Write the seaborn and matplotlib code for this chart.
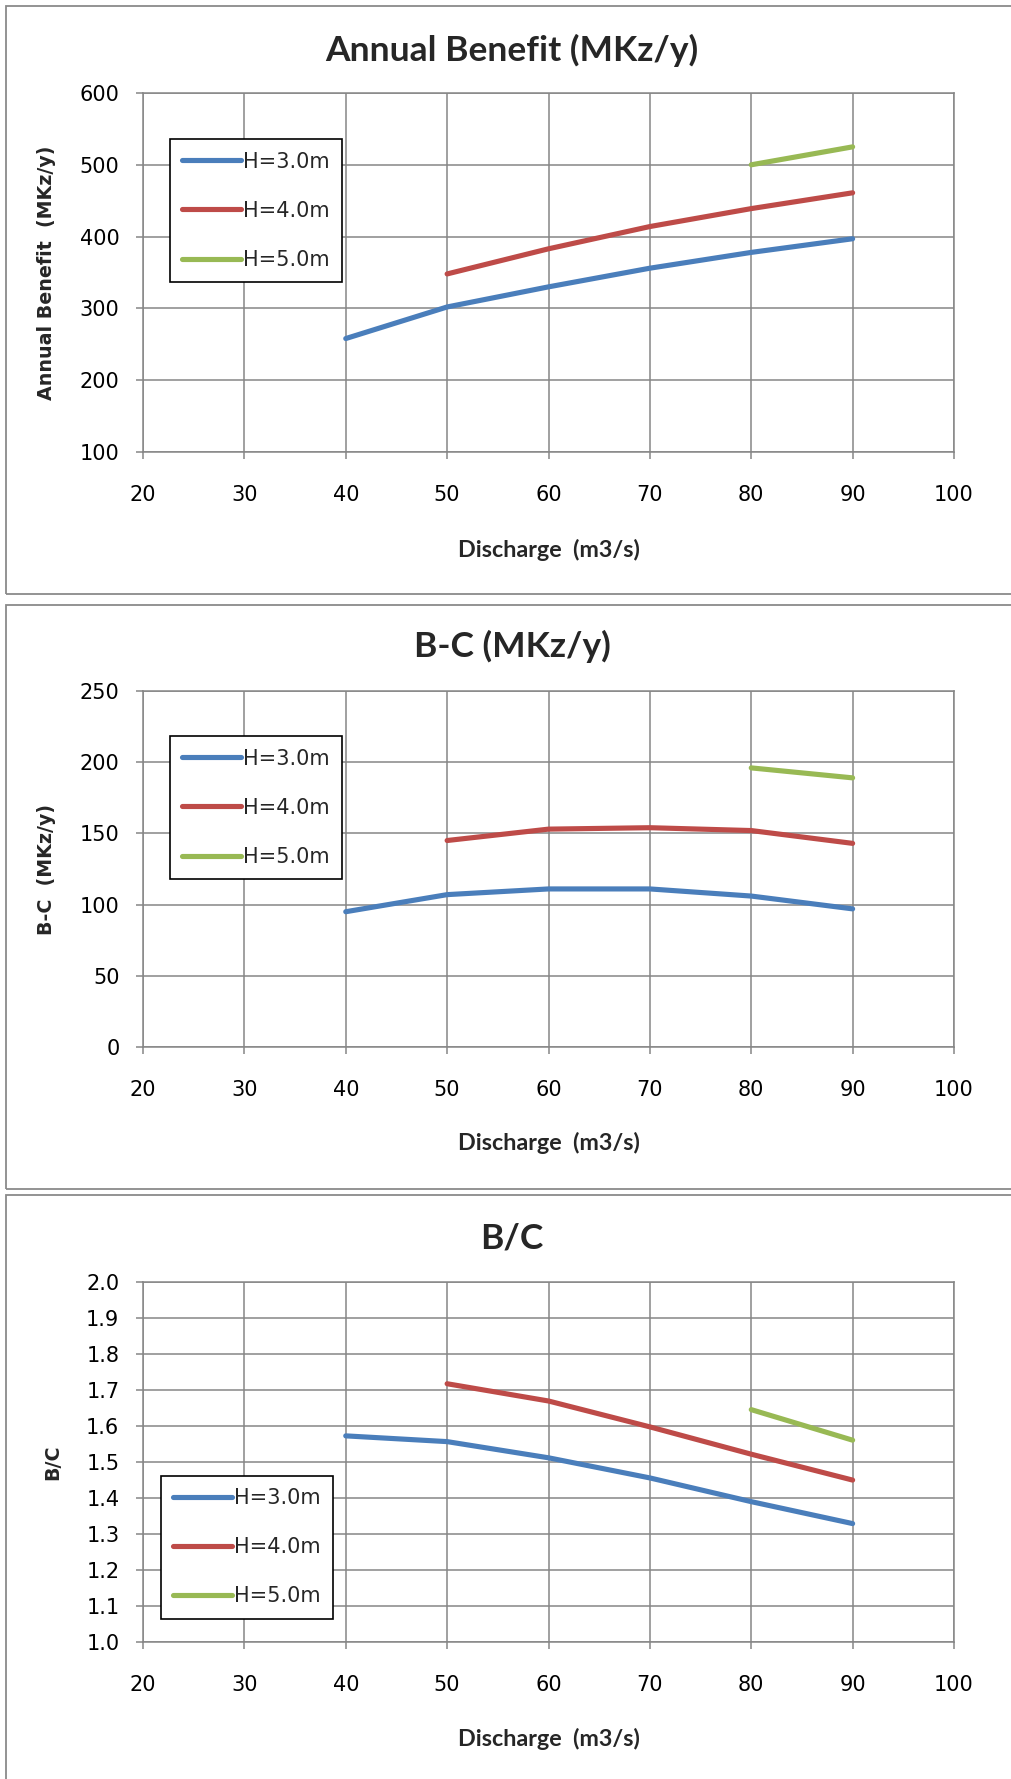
import numpy as np
import pandas as pd
import matplotlib
matplotlib.use("Agg")
import matplotlib.pyplot as plt
import seaborn as sns
from matplotlib.patches import Rectangle
from matplotlib.ticker import FormatStrFormatter, MultipleLocator

# ---------------- data ----------------
series_labels = ["H=3.0m", "H=4.0m", "H=5.0m"]
discharge_h3 = [40, 50, 60, 70, 80, 90]
discharge_h4 = [50, 60, 70, 80, 90]
discharge_h5 = [80, 90]

benefit_h3 = [258, 302, 330, 356, 378, 397]
benefit_h4 = [348, 383, 414, 439, 461]
benefit_h5 = [500, 525]

bc_diff_h3 = [95, 107, 111, 111, 106, 97]
bc_diff_h4 = [145, 153, 154, 152, 143]
bc_diff_h5 = [196, 189]

bc_ratio_h3 = [1.572, 1.556, 1.511, 1.455, 1.389, 1.328]
bc_ratio_h4 = [1.717, 1.669, 1.597, 1.521, 1.449]
bc_ratio_h5 = [1.645, 1.560]

x_ticks = [20, 30, 40, 50, 60, 70, 80, 90, 100]
colors = ["#4A7EBB", "#BE4B48", "#98B954"]


def make_df(v3, v4, v5):
    return pd.concat([
        pd.DataFrame({"Q": discharge_h3, "v": v3, "H": series_labels[0]}),
        pd.DataFrame({"Q": discharge_h4, "v": v4, "H": series_labels[1]}),
        pd.DataFrame({"Q": discharge_h5, "v": v5, "H": series_labels[2]}),
    ], ignore_index=True)


sns.set_theme(style="white")
plt.rcParams["font.family"] = ["DejaVu Sans"]

W, H = 1012, 1779
fig = plt.figure(figsize=(W / 100, H / 100), dpi=100)
GRID = "#868686"


def rect(l, t, r, b):
    return [l / W, 1 - b / H, (r - l) / W, (b - t) / H]


panels = [
    dict(title="Annual Benefit (MKz/y)", ylabel="Annual Benefit  (MKz/y)",
         df=make_df(benefit_h3, benefit_h4, benefit_h5), ylim=(100, 600), step=100, fmt="%d",
         ax=(143, 93, 954, 452), title_y=61, xlabel_y=557, ylabel_x=46.8,
         leg=(170, 139), frame=(6.5, 5.5, 1040, 593.5)),
    dict(title="B-C (MKz/y)", ylabel="B-C  (MKz/y)",
         df=make_df(bc_diff_h3, bc_diff_h4, bc_diff_h5), ylim=(0, 250), step=50, fmt="%d",
         ax=(143, 691, 954, 1047), title_y=657, xlabel_y=1150, ylabel_x=46.2,
         leg=(170, 736), frame=(6.5, 604.5, 1040, 1188.5)),
    dict(title="B/C", ylabel="B/C",
         df=make_df(bc_ratio_h3, bc_ratio_h4, bc_ratio_h5), ylim=(1.0, 2.0), step=0.1, fmt="%.1f",
         ax=(143, 1282, 954, 1641.5), title_y=1249, xlabel_y=1746, ylabel_x=52.5,
         leg=(161, 1475.5), frame=(6.5, 1195, 1040, 1810)),
]

for p in panels:
    fl, ft, fr, fb = p["frame"]
    fig.add_artist(Rectangle((fl / W, 1 - fb / H), (fr - fl) / W, (fb - ft) / H,
                             transform=fig.transFigure, fill=False,
                             edgecolor="#8a8a8a", linewidth=1.3, zorder=0))

    l, t, r, b = p["ax"]
    ax = fig.add_axes(rect(l, t, r, b))
    sns.lineplot(data=p["df"], x="Q", y="v", hue="H", palette=colors,
                 hue_order=series_labels, estimator=None, sort=False,
                 linewidth=3.7, legend=False, ax=ax)
    for ln in ax.lines:
        ln.set_solid_capstyle("round")
        ln.set_zorder(3)

    ax.set_xlim(20, 100)
    ax.set_xticks(x_ticks)
    ax.set_ylim(*p["ylim"])
    ax.yaxis.set_major_locator(MultipleLocator(p["step"]))
    ax.yaxis.set_major_formatter(FormatStrFormatter(p["fmt"]))
    ax.grid(True, color=GRID, linewidth=1.1)
    ax.set_axisbelow(True)
    for s in ax.spines.values():
        s.set_color(GRID)
        s.set_linewidth(1.1)
    ax.tick_params(axis="both", which="major", direction="out", length=5,
                   width=1.1, color=GRID, labelsize=15, labelcolor="black")
    ax.tick_params(axis="x", pad=19, bottom=True)
    ax.tick_params(axis="y", pad=12, left=True)

    ax.set_xlabel("Discharge  (m3/s)", family=["Lato", "DejaVu Sans"],
                  fontweight="bold", fontsize=16.8, va="baseline")
    ax.xaxis.set_label_coords(((l + r) / 2 - l) / (r - l), -(p["xlabel_y"] - b) / (b - t))
    ax.set_ylabel(p["ylabel"], fontweight="bold", fontsize=13.7, va="center")
    ax.yaxis.set_label_coords((p["ylabel_x"] - l) / (r - l), 0.5)

    fig.text(512 / W, 1 - p["title_y"] / H, p["title"], family=["Lato", "DejaVu Sans"],
             fontweight="bold", fontsize=25.5, ha="center", va="baseline")

    lx, ly = p["leg"]
    leg = ax.legend(ax.lines[:3], series_labels, loc="upper left",
                    bbox_to_anchor=(lx / W, 1 - ly / H), bbox_transform=fig.transFigure,
                    borderaxespad=0, frameon=True, fancybox=False, edgecolor="black",
                    framealpha=1, fontsize=15, handlelength=2.8, handletextpad=0.1,
                    borderpad=0.6, labelspacing=1.4)
    leg.get_frame().set_linewidth(1.2)

fig.savefig("out.png", dpi=100, facecolor="white")
